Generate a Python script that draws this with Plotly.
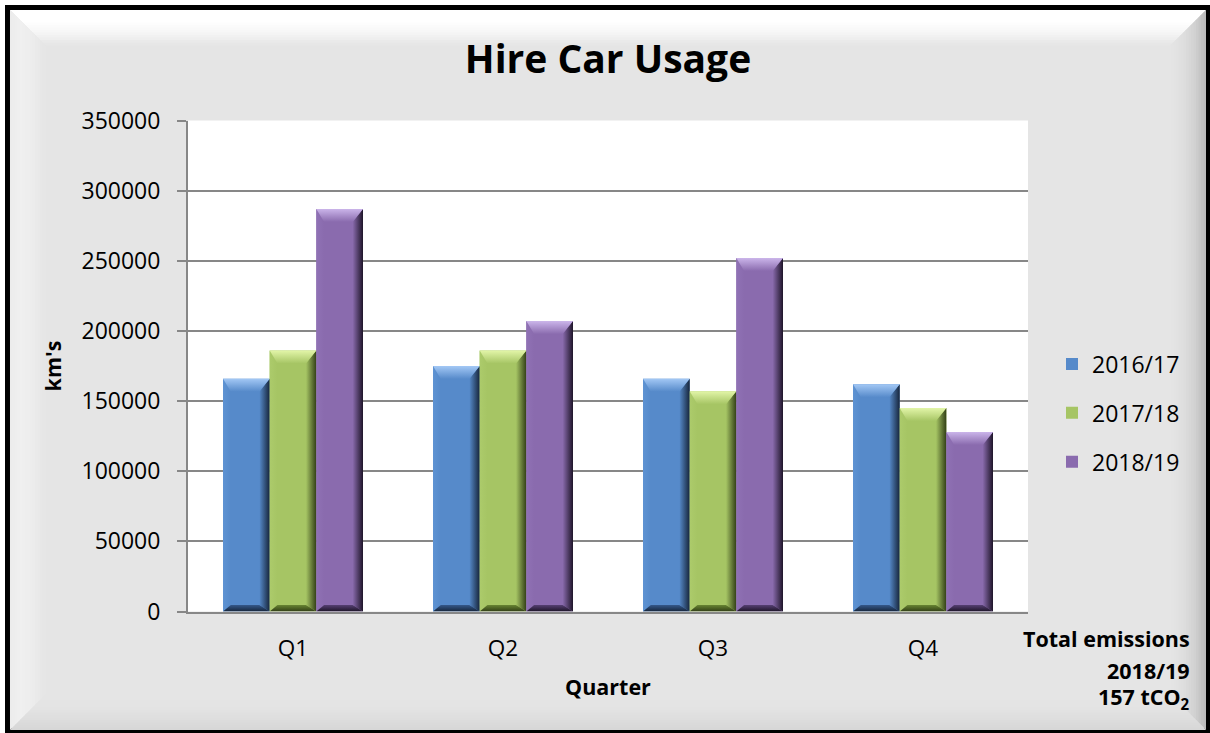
import plotly.graph_objects as go

# ---- data -------------------------------------------------------------
quarters = ["Q1", "Q2", "Q3", "Q4"]
series_names = ["2016/17", "2017/18", "2018/19"]
km_2016_17 = [166000, 175000, 166000, 162000]
km_2017_18 = [186000, 186000, 157000, 145000]
km_2018_19 = [287000, 207000, 252000, 128000]
y_ticks = [0, 50000, 100000, 150000, 200000, 250000, 300000, 350000]
emissions_lines = ["Total emissions", "2018/19", "157 tCO<sub>2</sub>"]

# ---- styling ------------------------------------------------------------
W, H = 1210, 733
FONT = "'Open Sans', Lato, sans-serif"
PLOT_L, PLOT_R, PLOT_T, PLOT_B = 188, 1028, 120.5, 611.5
Y_MAX = 350000
X_RANGE = [-0.5, 3.5]

# colour sets: main face, top highlight, right shadow, bottom shadow, left face
palette = [
    dict(main="#568ACA", top="#A3C8F5", right="#17263C", bottom="#34588A", left="#5E93D3"),
    dict(main="#A6C564", top="#E2F5A8", right="#323F16", bottom="#678432", left="#ACCB6B"),
    dict(main="#8A6BAE", top="#CBB5EA", right="#1E1529", bottom="#553F72", left="#9072B5"),
]
values = [km_2016_17, km_2017_18, km_2018_19]

# each group fills two thirds of a category slot, split into three bars
bar_w = (2 / 3) / 3
offsets = [-1.5 * bar_w, -0.5 * bar_w, 0.5 * bar_w]

# pixel -> data conversions for the bevel depth
px_x = (X_RANGE[1] - X_RANGE[0]) / (PLOT_R - PLOT_L)
px_y = Y_MAX / (PLOT_B - PLOT_T)
BEVEL = 13

fig = go.Figure()

for s, (name, vals, col) in enumerate(zip(series_names, values, palette)):
    fig.add_trace(go.Bar(
        x=list(range(len(quarters))), y=vals, name=name,
        width=bar_w, offset=offsets[s],
        marker=dict(color=col["main"], line=dict(width=0)),
        legendgroup=name, hoverinfo="y+name",
    ))

# bevelled faces on each bar
def face(xs, ys, grad_type, c0, c1):
    return go.Scatter(
        x=xs + [xs[0]], y=ys + [ys[0]], mode="lines", line=dict(width=0),
        fill="toself", fillcolor=c0,
        fillgradient=dict(type=grad_type, colorscale=[[0, c0], [1, c1]]),
        showlegend=False, hoverinfo="skip",
    )

for s, (vals, col) in enumerate(zip(values, palette)):
    for i, v in enumerate(vals):
        x0 = i + offsets[s]
        x1 = x0 + bar_w
        bx = BEVEL * px_x
        by = BEVEL * px_y
        # left face
        fig.add_trace(face([x0, x0, x0 + bx * 0.6, x0 + bx * 0.6], [0, v, v - by, by * 0.5],
                           "horizontal", col["left"], col["main"]))
        # bottom face
        fig.add_trace(face([x0, x1, x1 - bx * 0.75, x0 + bx * 0.6], [0, 0, by * 0.5, by * 0.5],
                           "vertical", col["right"], col["bottom"]))
        # right face
        fig.add_trace(face([x1, x1, x1 - bx * 0.8, x1 - bx * 0.8], [0, v, v - by, by * 0.5],
                           "horizontal", col["main"], col["right"]))
        # top face
        fig.add_trace(face([x0, x1, x1 - bx * 0.8, x0 + bx * 0.6], [v, v, v - by, v - by],
                           "vertical", col["main"], col["top"]))

# ---- frame with bevelled edges ------------------------------------------
def px(x):
    return x / W

def py(y):
    return 1 - y / H

shapes = []
FX0, FY0, FX1, FY1 = 10, 10, 1206, 730
BAND = 35

def band_path(side, a, b):
    if side == "top":
        pts = [(FX0 + a, FY0 + a), (FX1 - a, FY0 + a), (FX1 - b, FY0 + b), (FX0 + b, FY0 + b)]
    elif side == "bottom":
        pts = [(FX0 + a, FY1 - a), (FX1 - a, FY1 - a), (FX1 - b, FY1 - b), (FX0 + b, FY1 - b)]
    elif side == "left":
        pts = [(FX0 + a, FY0 + a), (FX0 + a, FY1 - a), (FX0 + b, FY1 - b), (FX0 + b, FY0 + b)]
    else:
        pts = [(FX1 - a, FY0 + a), (FX1 - a, FY1 - a), (FX1 - b, FY1 - b), (FX1 - b, FY0 + b)]
    return "M" + " L".join(f"{px(x):.5f},{py(y):.5f}" for x, y in pts) + " Z"

def mix(c0, c1, t):
    return "#%02x%02x%02x" % tuple(round(c0[k] + (c1[k] - c0[k]) * t) for k in range(3))

base = (229, 229, 229)
band_colours = {
    "top": [(255, 255, 255), (255, 255, 255), (245, 245, 245), base],
    "left": [(236, 236, 236), (240, 240, 240), (236, 236, 236), base],
    "right": [(185, 185, 185), (210, 210, 210), (223, 223, 223), base],
    "bottom": [(214, 214, 214), (222, 222, 222), (228, 228, 228), base],
}

# outer panel with a black border
shapes.append(dict(type="rect", xref="paper", yref="paper", layer="below",
                   x0=px(7.5), x1=px(1208), y0=py(731), y1=py(7.5),
                   fillcolor="rgb(229,229,229)", line=dict(color="black", width=5)))

STEPS = 14
for side, stops in band_colours.items():
    for k in range(STEPS):
        a = BAND * k / STEPS
        b = BAND * (k + 1) / STEPS
        t = (k + 0.5) / STEPS * (len(stops) - 1)
        j = min(int(t), len(stops) - 2)
        c = mix(stops[j], stops[j + 1], t - j)
        shapes.append(dict(type="path", xref="paper", yref="paper", layer="below",
                           path=band_path(side, a, b + 0.6), fillcolor=c, line=dict(width=0)))

# white plotting area
shapes.append(dict(type="rect", xref="paper", yref="paper", layer="below",
                   x0=px(PLOT_L), x1=px(PLOT_R), y0=py(PLOT_B), y1=py(PLOT_T),
                   fillcolor="white", line=dict(width=0)))

# ---- emissions note -------------------------------------------------------
annotations = []
for line, yc in zip(emissions_lines, [638, 670, 698]):
    annotations.append(dict(text=f"<b>{line}</b>", x=px(1192), y=py(yc), xref="paper", yref="paper",
                            xanchor="right", yanchor="middle", showarrow=False,
                            font=dict(family=FONT, size=21.5, color="black")))

GRID = "#878787"
fig.update_layout(
    width=W, height=H, autosize=False,
    margin=dict(l=0, r=0, t=0, b=0, pad=0, autoexpand=False),
    paper_bgcolor="white", plot_bgcolor="rgba(0,0,0,0)",
    barmode="overlay",
    font=dict(family=FONT, size=22, color="black"),
    title=dict(text="<b>Hire Car Usage</b>", x=px(608), xanchor="center",
               y=py(59), yanchor="middle", yref="paper",
               font=dict(family=FONT, size=39, color="black")),
    xaxis=dict(domain=[px(PLOT_L), px(PLOT_R)], range=X_RANGE, automargin=False,
               tickvals=list(range(len(quarters))), ticktext=quarters,
               showgrid=False, zeroline=False, showline=True, linecolor=GRID, linewidth=2,
               ticks="", ticklabelstandoff=15, tickfont=dict(size=22.5),
               title=dict(text="<b>Quarter</b>", standoff=18, font=dict(size=21.5))),
    yaxis=dict(domain=[py(PLOT_B), py(PLOT_T)], range=[0, Y_MAX], automargin=False,
               tickvals=y_ticks, tickformat="d", tickfont=dict(size=23),
               showgrid=True, gridcolor=GRID, gridwidth=2, zeroline=False,
               showline=True, linecolor=GRID, linewidth=2,
               ticks="outside", ticklen=9, tickcolor=GRID, tickwidth=2,
               ticklabelstandoff=12,
               title=dict(text="<b>km's</b>", standoff=14, font=dict(size=21.5))),
    legend=dict(x=px(1052), xanchor="left", y=py(413), yanchor="middle",
                bgcolor="rgba(0,0,0,0)", font=dict(size=23), tracegroupgap=16),
    shapes=shapes,
    annotations=annotations,
)

fig.write_html("out.html")
